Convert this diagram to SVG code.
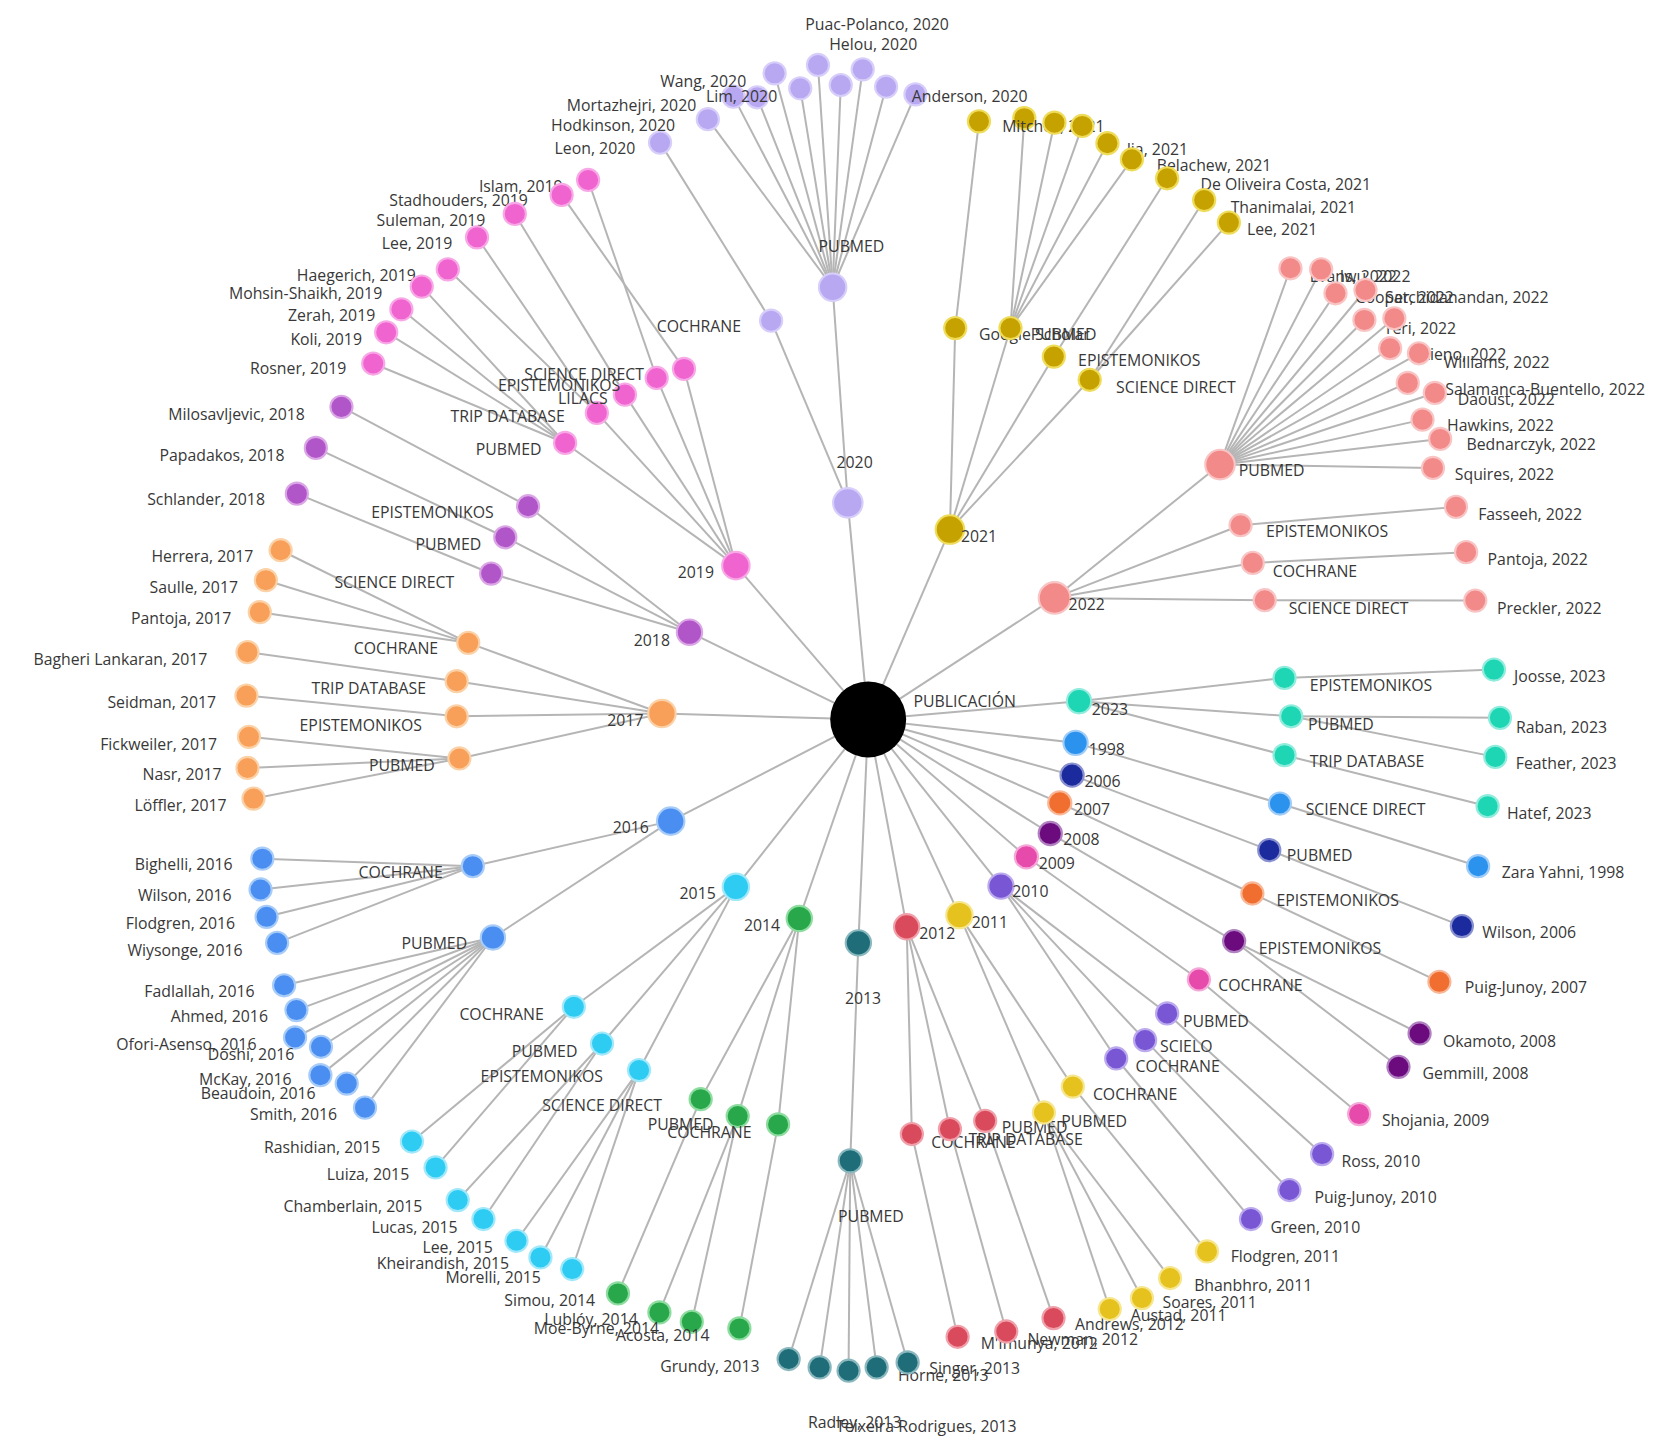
<svg xmlns="http://www.w3.org/2000/svg" width="1654" height="1455" viewBox="0 0 1654 1455">
<style>
.e line{stroke:#b5b5b5;stroke-width:1.9}
text{font-family:"Open Sans","Noto Sans","DejaVu Sans",sans-serif;font-size:15px;fill:#383838}
circle{stroke-width:2}
.k20{fill:#b8a8f2;stroke:#d8cefa}
.k21{fill:#c6a200;stroke:#eedc5a}
.k19{fill:#f064d0;stroke:#f8a8e6}
.k18{fill:#b056c8;stroke:#dba6e6}
.k17{fill:#f8a05a;stroke:#fbd2a8}
.k16{fill:#4b8ef2;stroke:#a8ccf8}
.k15{fill:#2ecbf2;stroke:#a0e8fa}
.k14{fill:#28a84a;stroke:#8edca0}
.k13{fill:#1f6d78;stroke:#8ab8be}
.k12{fill:#d94b5c;stroke:#f0a0aa}
.k11{fill:#e5c21e;stroke:#f6e690}
.k10{fill:#7856d4;stroke:#bcaaee}
.k09{fill:#e64aaa;stroke:#f5a8d8}
.k08{fill:#6b0b7e;stroke:#b080c0}
.k07{fill:#ef6e30;stroke:#f8b898}
.k06{fill:#1b2a9c;stroke:#8890d0}
.k98{fill:#2b93ee;stroke:#a0ccf8}
.k23{fill:#1ed5b4;stroke:#90ecdc}
.k22{fill:#f28a8a;stroke:#f9c4c4}
</style>
<rect width="1654" height="1455" fill="#fff"/>
<g transform="scale(1.0549)">
<g id="connectors" class="e">
<line x1="823" y1="682" x2="803.7" y2="476.7"/><line x1="823" y1="682" x2="900.5" y2="502"/><line x1="823" y1="682" x2="999.7" y2="566.8"/><line x1="823" y1="682" x2="1022.9" y2="664.7"/><line x1="823" y1="682" x2="1019.6" y2="704.2"/><line x1="823" y1="682" x2="1016.3" y2="734.8"/><line x1="823" y1="682" x2="1004.6" y2="761.1"/><line x1="823" y1="682" x2="995.6" y2="790.1"/><line x1="823" y1="682" x2="973" y2="812.2"/><line x1="823" y1="682" x2="948.9" y2="840"/><line x1="823" y1="682" x2="909.5" y2="867.5"/><line x1="823" y1="682" x2="859.5" y2="878.6"/><line x1="823" y1="682" x2="813.7" y2="893.8"/><line x1="823" y1="682" x2="757.7" y2="870.7"/><line x1="823" y1="682" x2="697.6" y2="840.7"/><line x1="823" y1="682" x2="635.8" y2="778.4"/><line x1="823" y1="682" x2="627.5" y2="676.4"/><line x1="823" y1="682" x2="653.6" y2="599.3"/><line x1="823" y1="682" x2="697.6" y2="536.2"/>
<line x1="789.3" y1="272.3" x2="803.7" y2="476.7"/><line x1="731" y1="304" x2="803.7" y2="476.7"/>
<line x1="671" y1="113" x2="789.3" y2="272.3"/><line x1="695.3" y1="91.6" x2="789.3" y2="272.3"/><line x1="717.7" y1="92.2" x2="789.3" y2="272.3"/><line x1="734.3" y1="69.5" x2="789.3" y2="272.3"/><line x1="758.6" y1="83.7" x2="789.3" y2="272.3"/><line x1="775.4" y1="61.6" x2="789.3" y2="272.3"/><line x1="797" y1="80.6" x2="789.3" y2="272.3"/><line x1="817.8" y1="65.7" x2="789.3" y2="272.3"/><line x1="840" y1="82.2" x2="789.3" y2="272.3"/><line x1="867.8" y1="89.4" x2="789.3" y2="272.3"/>
<line x1="625.7" y1="135.2" x2="731" y2="304"/>
<line x1="905.5" y1="311" x2="900.5" y2="502"/><line x1="957.9" y1="311" x2="900.5" y2="502"/><line x1="999" y1="338" x2="900.5" y2="502"/><line x1="1033" y1="360" x2="900.5" y2="502"/>
<line x1="928" y1="115" x2="905.5" y2="311"/>
<line x1="971" y1="112" x2="957.9" y2="311"/><line x1="999.6" y1="116.3" x2="957.9" y2="311"/><line x1="1026" y1="119.4" x2="957.9" y2="311"/><line x1="1049.8" y1="135.8" x2="957.9" y2="311"/><line x1="1073" y1="151" x2="957.9" y2="311"/>
<line x1="1106.4" y1="169" x2="999" y2="338"/>
<line x1="1141.5" y1="189.6" x2="1033" y2="360"/><line x1="1164.9" y1="211" x2="1033" y2="360"/>
<line x1="535.7" y1="419.9" x2="697.6" y2="536.2"/><line x1="565.8" y1="391.4" x2="697.6" y2="536.2"/><line x1="592.4" y1="374.1" x2="697.6" y2="536.2"/><line x1="622.5" y1="358.3" x2="697.6" y2="536.2"/><line x1="648.4" y1="349.7" x2="697.6" y2="536.2"/>
<line x1="557.5" y1="170.6" x2="622.5" y2="358.3"/><line x1="532.4" y1="184.8" x2="648.4" y2="349.7"/><line x1="488" y1="202.8" x2="592.4" y2="374.1"/><line x1="452.2" y1="225" x2="565.8" y2="391.4"/><line x1="424.5" y1="255.3" x2="565.8" y2="391.4"/><line x1="399.8" y1="271.7" x2="535.7" y2="419.9"/><line x1="380.5" y1="293.2" x2="535.7" y2="419.9"/><line x1="366.1" y1="315" x2="535.7" y2="419.9"/><line x1="353.8" y1="344.6" x2="535.7" y2="419.9"/>
<line x1="500.6" y1="479.9" x2="653.6" y2="599.3"/><line x1="479" y1="509.3" x2="653.6" y2="599.3"/><line x1="465.6" y1="543.7" x2="653.6" y2="599.3"/>
<line x1="323.7" y1="385.7" x2="500.6" y2="479.9"/><line x1="299.4" y1="424.6" x2="479" y2="509.3"/><line x1="281.4" y1="468" x2="465.6" y2="543.7"/>
<line x1="443.9" y1="609.4" x2="627.5" y2="676.4"/><line x1="432.9" y1="645.7" x2="627.5" y2="676.4"/><line x1="432.9" y1="679" x2="627.5" y2="676.4"/><line x1="435.5" y1="719" x2="627.5" y2="676.4"/>
<line x1="266" y1="521.6" x2="443.9" y2="609.4"/><line x1="252" y1="550" x2="443.9" y2="609.4"/><line x1="246.3" y1="580.3" x2="443.9" y2="609.4"/><line x1="234.6" y1="618.2" x2="432.9" y2="645.7"/><line x1="233.6" y1="659.4" x2="432.9" y2="679"/><line x1="236" y1="698.5" x2="435.5" y2="719"/><line x1="234.6" y1="728" x2="435.5" y2="719"/><line x1="240.3" y1="757" x2="435.5" y2="719"/>
<line x1="448.2" y1="821.1" x2="635.8" y2="778.4"/><line x1="467.3" y1="888.7" x2="635.8" y2="778.4"/>
<line x1="248.7" y1="814" x2="448.2" y2="821.1"/><line x1="247" y1="843.2" x2="448.2" y2="821.1"/><line x1="252.7" y1="869.1" x2="448.2" y2="821.1"/><line x1="262.7" y1="893.8" x2="448.2" y2="821.1"/>
<line x1="269.3" y1="934" x2="467.3" y2="888.7"/><line x1="281" y1="957.5" x2="467.3" y2="888.7"/><line x1="279.7" y1="983.5" x2="467.3" y2="888.7"/><line x1="304.3" y1="992.3" x2="467.3" y2="888.7"/><line x1="303.7" y1="1019.2" x2="467.3" y2="888.7"/><line x1="328.7" y1="1027.2" x2="467.3" y2="888.7"/><line x1="346" y1="1050" x2="467.3" y2="888.7"/>
<line x1="544" y1="954.4" x2="697.6" y2="840.7"/><line x1="570.7" y1="989.2" x2="697.6" y2="840.7"/><line x1="605.8" y1="1014.4" x2="697.6" y2="840.7"/>
<line x1="390.5" y1="1082.1" x2="544" y2="954.4"/><line x1="412.9" y1="1106.7" x2="544" y2="954.4"/><line x1="433.9" y1="1137.6" x2="570.7" y2="989.2"/><line x1="458.3" y1="1155.6" x2="570.7" y2="989.2"/><line x1="489.6" y1="1176.2" x2="605.8" y2="1014.4"/><line x1="512.3" y1="1192" x2="605.8" y2="1014.4"/><line x1="542.4" y1="1203" x2="605.8" y2="1014.4"/>
<line x1="664.2" y1="1042" x2="757.7" y2="870.7"/><line x1="699.3" y1="1058" x2="757.7" y2="870.7"/><line x1="737.6" y1="1065.9" x2="757.7" y2="870.7"/>
<line x1="585.8" y1="1226.1" x2="664.2" y2="1042"/><line x1="625.1" y1="1244.1" x2="699.3" y2="1058"/><line x1="655.8" y1="1253" x2="699.3" y2="1058"/><line x1="700.9" y1="1259.3" x2="737.6" y2="1065.9"/>
<line x1="806" y1="1100.4" x2="813.7" y2="893.8"/>
<line x1="747.6" y1="1288.3" x2="806" y2="1100.4"/><line x1="777" y1="1296.2" x2="806" y2="1100.4"/><line x1="804.4" y1="1299.4" x2="806" y2="1100.4"/><line x1="831" y1="1296.2" x2="806" y2="1100.4"/><line x1="860.4" y1="1291.5" x2="806" y2="1100.4"/>
<line x1="864.4" y1="1075" x2="859.5" y2="878.6"/><line x1="900.5" y1="1070.3" x2="859.5" y2="878.6"/><line x1="933.9" y1="1062.5" x2="859.5" y2="878.6"/>
<line x1="907.8" y1="1267.2" x2="864.4" y2="1075"/><line x1="953.9" y1="1262.2" x2="900.5" y2="1070.3"/><line x1="998.7" y1="1249.5" x2="933.9" y2="1062.5"/>
<line x1="1017" y1="1030" x2="909.5" y2="867.5"/><line x1="989.6" y1="1054.6" x2="909.5" y2="867.5"/>
<line x1="1144.2" y1="1186.3" x2="1017" y2="1030"/><line x1="1109.2" y1="1211.5" x2="989.6" y2="1054.6"/><line x1="1082.5" y1="1230.5" x2="989.6" y2="1054.6"/><line x1="1052" y1="1240.9" x2="989.6" y2="1054.6"/>
<line x1="1106.4" y1="960.7" x2="948.9" y2="840"/><line x1="1085.5" y1="986" x2="948.9" y2="840"/><line x1="1058.1" y1="1003.4" x2="948.9" y2="840"/>
<line x1="1253.3" y1="1094" x2="1106.4" y2="960.7"/><line x1="1222.3" y1="1128.1" x2="1085.5" y2="986"/><line x1="1185.9" y1="1155.6" x2="1058.1" y2="1003.4"/>
<line x1="1136.5" y1="928.5" x2="973" y2="812.2"/><line x1="1288.4" y1="1056.1" x2="1136.5" y2="928.5"/>
<line x1="1169.9" y1="892.1" x2="995.6" y2="790.1"/><line x1="1345.7" y1="979.7" x2="1169.9" y2="892.1"/><line x1="1325.7" y1="1011.3" x2="1169.9" y2="892.1"/>
<line x1="1187.2" y1="847" x2="1004.6" y2="761.1"/><line x1="1364.5" y1="930.7" x2="1187.2" y2="847"/>
<line x1="1203.2" y1="805.9" x2="1016.3" y2="734.8"/><line x1="1385.8" y1="877.9" x2="1203.2" y2="805.9"/>
<line x1="1213.3" y1="761.7" x2="1019.6" y2="704.2"/><line x1="1401.2" y1="821.1" x2="1213.3" y2="761.7"/>
<line x1="1217.7" y1="642.6" x2="1022.9" y2="664.7"/><line x1="1224" y1="679" x2="1022.9" y2="664.7"/><line x1="1217.7" y1="715.9" x2="1022.9" y2="664.7"/>
<line x1="1416.2" y1="634.7" x2="1217.7" y2="642.6"/><line x1="1421.9" y1="680.5" x2="1224" y2="679"/><line x1="1417.5" y1="717.5" x2="1224" y2="679"/><line x1="1410.2" y1="764.2" x2="1217.7" y2="715.9"/>
<line x1="1156.5" y1="440.4" x2="999.7" y2="566.8"/><line x1="1176" y1="497.9" x2="999.7" y2="566.8"/><line x1="1187.6" y1="533.6" x2="999.7" y2="566.8"/><line x1="1198.9" y1="569" x2="999.7" y2="566.8"/>
<line x1="1380.2" y1="480.5" x2="1176" y2="497.9"/><line x1="1389.8" y1="523.4" x2="1187.6" y2="533.6"/><line x1="1398.5" y1="569.3" x2="1198.9" y2="569"/>
<line x1="1223.3" y1="254.3" x2="1156.5" y2="440.4"/><line x1="1252.4" y1="255.3" x2="1156.5" y2="440.4"/><line x1="1266" y1="278" x2="1156.5" y2="440.4"/><line x1="1294.4" y1="274.9" x2="1156.5" y2="440.4"/><line x1="1293.4" y1="303.3" x2="1156.5" y2="440.4"/><line x1="1321.8" y1="301.7" x2="1156.5" y2="440.4"/><line x1="1317.8" y1="330.1" x2="1156.5" y2="440.4"/><line x1="1345.1" y1="334.9" x2="1156.5" y2="440.4"/><line x1="1334.5" y1="363" x2="1156.5" y2="440.4"/><line x1="1360.2" y1="372.5" x2="1156.5" y2="440.4"/><line x1="1348.5" y1="397.8" x2="1156.5" y2="440.4"/><line x1="1365.2" y1="416.1" x2="1156.5" y2="440.4"/><line x1="1358.4" y1="443.6" x2="1156.5" y2="440.4"/>
</g>

<g id="nodes">
<g id="publicacion"><circle cx="823" cy="682" r="36" fill="#000" stroke="none"/><text x="866" y="670">PUBLICACIÓN</text></g>

<g id="y2020"><circle class="k20" cx="803.7" cy="476.7" r="14"/><text x="793" y="444">2020</text></g>
<g id="s2020-pubmed"><circle class="k20" cx="789.3" cy="272.3" r="13"/><text x="776" y="239">PUBMED</text></g>
<g id="s2020-cochrane"><circle class="k20" cx="731" cy="304" r="10.5"/><text x="622.5" y="315">COCHRANE</text></g>
<g id="l2020-leon"><circle class="k20" cx="625.7" cy="135.2" r="10.5"/><text x="525.7" y="146">Leon, 2020</text></g>
<g id="l2020-hodkinson"><circle class="k20" cx="671" cy="113" r="10.5"/><text x="522.4" y="124">Hodkinson, 2020</text></g>
<g id="l2020-mortazhejri"><circle class="k20" cx="695.3" cy="91.6" r="10.5"/><text x="537.3" y="105.5">Mortazhejri, 2020</text></g>
<g id="l2020-lim"><circle class="k20" cx="717.7" cy="92.2" r="10.5"/><text x="669.2" y="96.6">Lim, 2020</text></g>
<g id="l2020-wang"><circle class="k20" cx="734.3" cy="69.5" r="10.5"/><text x="625.8" y="82.4">Wang, 2020</text></g>
<g id="l2020-a"><circle class="k20" cx="758.6" cy="83.7" r="10.5"/></g>
<g id="l2020-puac"><circle class="k20" cx="775.4" cy="61.6" r="10.5"/><text x="763.4" y="28.7">Puac-Polanco, 2020</text></g>
<g id="l2020-helou"><circle class="k20" cx="797" cy="80.6" r="10.5"/><text x="786" y="47">Helou, 2020</text></g>
<g id="l2020-b"><circle class="k20" cx="817.8" cy="65.7" r="10.5"/></g>
<g id="l2020-c"><circle class="k20" cx="840" cy="82.2" r="10.5"/></g>
<g id="l2020-anderson"><circle class="k20" cx="867.8" cy="89.4" r="10.5"/><text x="864.4" y="96.6">Anderson, 2020</text></g>

<g id="y2021"><circle class="k21" cx="900.5" cy="502" r="13.5"/><text x="911" y="514">2021</text></g>
<g id="s2021-scholar"><circle class="k21" cx="905.5" cy="311" r="10.5"/><text x="928" y="322.6">Google Scholar</text></g>
<g id="s2021-pubmed"><circle class="k21" cx="957.9" cy="311" r="10.5"/><text x="977" y="322.6">PUBMED</text></g>
<g id="s2021-epist"><circle class="k21" cx="999" cy="338" r="10.5"/><text x="1022" y="347">EPISTEMONIKOS</text></g>
<g id="s2021-sd"><circle class="k21" cx="1033" cy="360" r="10.5"/><text x="1058" y="372.8">SCIENCE DIRECT</text></g>
<g id="l2021-a"><circle class="k21" cx="928" cy="115" r="10.5"/></g>
<g id="l2021-mitchell"><circle class="k21" cx="971" cy="112" r="10.5"/><text x="950" y="125">Mitchell, 2021</text></g>
<g id="l2021-b"><circle class="k21" cx="999.6" cy="116.3" r="10.5"/></g>
<g id="l2021-c"><circle class="k21" cx="1026" cy="119.4" r="10.5"/></g>
<g id="l2021-jia"><circle class="k21" cx="1049.8" cy="135.8" r="10.5"/><text x="1068" y="147">Jia, 2021</text></g>
<g id="l2021-belachew"><circle class="k21" cx="1073" cy="151" r="10.5"/><text x="1096.5" y="162">Belachew, 2021</text></g>
<g id="l2021-deoliveira"><circle class="k21" cx="1106.4" cy="169" r="10.5"/><text x="1138" y="180">De Oliveira Costa, 2021</text></g>
<g id="l2021-thanimalai"><circle class="k21" cx="1141.5" cy="189.6" r="10.5"/><text x="1166.6" y="202">Thanimalai, 2021</text></g>
<g id="l2021-lee"><circle class="k21" cx="1164.9" cy="211" r="10.5"/><text x="1182" y="223">Lee, 2021</text></g>

<g id="y2019"><circle class="k19" cx="697.6" cy="536.2" r="13"/><text x="642.5" y="548">2019</text></g>
<g id="s2019-pubmed"><circle class="k19" cx="535.7" cy="419.9" r="10.5"/><text x="451" y="431">PUBMED</text></g>
<g id="s2019-trip"><circle class="k19" cx="565.8" cy="391.4" r="10.5"/><text x="427" y="400">TRIP DATABASE</text></g>
<g id="s2019-lilacs"><circle class="k19" cx="592.4" cy="374.1" r="10.5"/><text x="529" y="383">LILACS</text></g>
<g id="s2019-epist"><circle class="k19" cx="622.5" cy="358.3" r="10.5"/><text x="472" y="371">EPISTEMONIKOS</text></g>
<g id="s2019-sd"><circle class="k19" cx="648.4" cy="349.7" r="10.5"/><text x="497" y="360">SCIENCE DIRECT</text></g>
<g id="l2019-islam"><circle class="k19" cx="557.5" cy="170.6" r="10.5"/><text x="454" y="182">Islam, 2019</text></g>
<g id="l2019-stadhouders"><circle class="k19" cx="532.4" cy="184.8" r="10.5"/><text x="369" y="195.5">Stadhouders, 2019</text></g>
<g id="l2019-suleman"><circle class="k19" cx="488" cy="202.8" r="10.5"/><text x="357" y="214">Suleman, 2019</text></g>
<g id="l2019-lee"><circle class="k19" cx="452.2" cy="225" r="10.5"/><text x="362" y="236.5">Lee, 2019</text></g>
<g id="l2019-haegerich"><circle class="k19" cx="424.5" cy="255.3" r="10.5"/><text x="281.4" y="266.6">Haegerich, 2019</text></g>
<g id="l2019-mohsin"><circle class="k19" cx="399.8" cy="271.7" r="10.5"/><text x="217" y="283.6">Mohsin-Shaikh, 2019</text></g>
<g id="l2019-zerah"><circle class="k19" cx="380.5" cy="293.2" r="10.5"/><text x="273" y="304.5">Zerah, 2019</text></g>
<g id="l2019-koli"><circle class="k19" cx="366.1" cy="315" r="10.5"/><text x="275.3" y="327.2">Koli, 2019</text></g>
<g id="l2019-rosner"><circle class="k19" cx="353.8" cy="344.6" r="10.5"/><text x="237" y="354.7">Rosner, 2019</text></g>

<g id="y2018"><circle class="k18" cx="653.6" cy="599.3" r="12"/><text x="600.8" y="612">2018</text></g>
<g id="s2018-epist"><circle class="k18" cx="500.6" cy="479.9" r="10.5"/><text x="352" y="491">EPISTEMONIKOS</text></g>
<g id="s2018-pubmed"><circle class="k18" cx="479" cy="509.3" r="10.5"/><text x="393.8" y="521">PUBMED</text></g>
<g id="s2018-sd"><circle class="k18" cx="465.6" cy="543.7" r="10.5"/><text x="317" y="557">SCIENCE DIRECT</text></g>
<g id="l2018-milosavljevic"><circle class="k18" cx="323.7" cy="385.7" r="10.5"/><text x="159.5" y="398">Milosavljevic, 2018</text></g>
<g id="l2018-papadakos"><circle class="k18" cx="299.4" cy="424.6" r="10.5"/><text x="151.2" y="437">Papadakos, 2018</text></g>
<g id="l2018-schlander"><circle class="k18" cx="281.4" cy="468" r="10.5"/><text x="139.5" y="478.6">Schlander, 2018</text></g>

<g id="y2017"><circle class="k17" cx="627.5" cy="676.4" r="13"/><text x="575.7" y="688.6">2017</text></g>
<g id="s2017-cochrane"><circle class="k17" cx="443.9" cy="609.4" r="10.5"/><text x="335.4" y="620">COCHRANE</text></g>
<g id="s2017-trip"><circle class="k17" cx="432.9" cy="645.7" r="10.5"/><text x="295.4" y="658">TRIP DATABASE</text></g>
<g id="s2017-epist"><circle class="k17" cx="432.9" cy="679" r="10.5"/><text x="284" y="693">EPISTEMONIKOS</text></g>
<g id="s2017-pubmed"><circle class="k17" cx="435.5" cy="719" r="10.5"/><text x="349.8" y="731.3">PUBMED</text></g>
<g id="l2017-herrera"><circle class="k17" cx="266" cy="521.6" r="10.5"/><text x="143.5" y="533">Herrera, 2017</text></g>
<g id="l2017-saulle"><circle class="k17" cx="252" cy="550" r="10.5"/><text x="141.8" y="561.7">Saulle, 2017</text></g>
<g id="l2017-pantoja"><circle class="k17" cx="246.3" cy="580.3" r="10.5"/><text x="124.2" y="591.7">Pantoja, 2017</text></g>
<g id="l2017-bagheri"><circle class="k17" cx="234.6" cy="618.2" r="10.5"/><text x="31.7" y="630.8">Bagheri Lankaran, 2017</text></g>
<g id="l2017-seidman"><circle class="k17" cx="233.6" cy="659.4" r="10.5"/><text x="101.8" y="671.3">Seidman, 2017</text></g>
<g id="l2017-fickweiler"><circle class="k17" cx="236" cy="698.5" r="10.5"/><text x="95" y="710.8">Fickweiler, 2017</text></g>
<g id="l2017-nasr"><circle class="k17" cx="234.6" cy="728" r="10.5"/><text x="135.2" y="739.2">Nasr, 2017</text></g>
<g id="l2017-loffler"><circle class="k17" cx="240.3" cy="757" r="10.5"/><text x="127.5" y="769.2">Löffler, 2017</text></g>

<g id="y2016"><circle class="k16" cx="635.8" cy="778.4" r="13"/><text x="580.8" y="789.8">2016</text></g>
<g id="s2016-cochrane"><circle class="k16" cx="448.2" cy="821.1" r="10.5"/><text x="339.8" y="832.2">COCHRANE</text></g>
<g id="s2016-pubmed"><circle class="k16" cx="467.3" cy="888.7" r="11.5"/><text x="380.5" y="900">PUBMED</text></g>
<g id="l2016-bighelli"><circle class="k16" cx="248.7" cy="814" r="10.5"/><text x="127.8" y="825">Bighelli, 2016</text></g>
<g id="l2016-wilson"><circle class="k16" cx="247" cy="843.2" r="10.5"/><text x="130.8" y="854">Wilson, 2016</text></g>
<g id="l2016-flodgren"><circle class="k16" cx="252.7" cy="869.1" r="10.5"/><text x="119.2" y="881">Flodgren, 2016</text></g>
<g id="l2016-wiysonge"><circle class="k16" cx="262.7" cy="893.8" r="10.5"/><text x="120.8" y="906.4">Wiysonge, 2016</text></g>
<g id="l2016-fadlallah"><circle class="k16" cx="269.3" cy="934" r="10.5"/><text x="136.8" y="945">Fadlallah, 2016</text></g>
<g id="l2016-ahmed"><circle class="k16" cx="281" cy="957.5" r="10.5"/><text x="161.8" y="969">Ahmed, 2016</text></g>
<g id="l2016-ofori"><circle class="k16" cx="279.7" cy="983.5" r="10.5"/><text x="110.2" y="995.7">Ofori-Asenso, 2016</text></g>
<g id="l2016-doshi"><circle class="k16" cx="304.3" cy="992.3" r="10.5"/><text x="196.9" y="1005">Doshi, 2016</text></g>
<g id="l2016-mckay"><circle class="k16" cx="303.7" cy="1019.2" r="10.5"/><text x="188.6" y="1029">McKay, 2016</text></g>
<g id="l2016-beaudoin"><circle class="k16" cx="328.7" cy="1027.2" r="10.5"/><text x="190.3" y="1042">Beaudoin, 2016</text></g>
<g id="l2016-smith"><circle class="k16" cx="346" cy="1050" r="10.5"/><text x="237" y="1061.8">Smith, 2016</text></g>

<g id="y2015"><circle class="k15" cx="697.6" cy="840.7" r="12.5"/><text x="644.2" y="852">2015</text></g>
<g id="s2015-cochrane"><circle class="k15" cx="544" cy="954.4" r="10.5"/><text x="435.5" y="966.6">COCHRANE</text></g>
<g id="s2015-pubmed"><circle class="k15" cx="570.7" cy="989.2" r="10.5"/><text x="485" y="1002">PUBMED</text></g>
<g id="s2015-epist"><circle class="k15" cx="605.8" cy="1014.4" r="10.5"/><text x="455.6" y="1026">EPISTEMONIKOS</text></g>
<g id="l2015-rashidian"><circle class="k15" cx="390.5" cy="1082.1" r="10.5"/><text x="250.3" y="1093.3">Rashidian, 2015</text></g>
<g id="l2015-luiza"><circle class="k15" cx="412.9" cy="1106.7" r="10.5"/><text x="309.7" y="1119">Luiza, 2015</text></g>
<g id="l2015-chamberlain"><circle class="k15" cx="433.9" cy="1137.6" r="10.5"/><text x="268.7" y="1149">Chamberlain, 2015</text></g>
<g id="l2015-lucas"><circle class="k15" cx="458.3" cy="1155.6" r="10.5"/><text x="352.1" y="1168.6">Lucas, 2015</text></g>
<g id="l2015-lee"><circle class="k15" cx="489.6" cy="1176.2" r="10.5"/><text x="400.5" y="1188">Lee, 2015</text></g>
<g id="l2015-kheirandish"><circle class="k15" cx="512.3" cy="1192" r="10.5"/><text x="357.1" y="1203.3">Kheirandish, 2015</text></g>
<g id="l2015-morelli"><circle class="k15" cx="542.4" cy="1203" r="10.5"/><text x="422.2" y="1216">Morelli, 2015</text></g>

<g id="y2014"><circle class="k14" cx="757.7" cy="870.7" r="12"/><text x="705.2" y="882.7">2014</text></g>
<g id="s2014-sd"><circle class="k14" cx="664.2" cy="1042" r="10.5"/><text x="514" y="1053">SCIENCE DIRECT</text></g>
<g id="s2014-pubmed"><circle class="k14" cx="699.3" cy="1058" r="10.5"/><text x="614" y="1071">PUBMED</text></g>
<g id="s2014-cochrane"><circle class="k14" cx="737.6" cy="1065.9" r="10.5"/><text x="632.5" y="1078.6">COCHRANE</text></g>
<g id="l2014-simou"><circle class="k14" cx="585.8" cy="1226.1" r="10.5"/><text x="478" y="1238">Simou, 2014</text></g>
<g id="l2014-lubloy"><circle class="k14" cx="625.1" cy="1244.1" r="10.5"/><text x="516" y="1256.4">Lublóy, 2014</text></g>
<g id="l2014-moebyrne"><circle class="k14" cx="655.8" cy="1253" r="10.5"/><text x="506" y="1264.6">Moe-Byrne, 2014</text></g>
<g id="l2014-acosta"><circle class="k14" cx="700.9" cy="1259.3" r="10.5"/><text x="584" y="1271.2">Acosta, 2014</text></g>

<g id="y2013"><circle class="k13" cx="813.7" cy="893.8" r="12"/><text x="801" y="951.6">2013</text></g>
<g id="s2013-pubmed"><circle class="k13" cx="806" cy="1100.4" r="11"/><text x="794.5" y="1158.5">PUBMED</text></g>
<g id="l2013-grundy"><circle class="k13" cx="747.6" cy="1288.3" r="10.5"/><text x="625.8" y="1300.6">Grundy, 2013</text></g>
<g id="l2013-radley"><circle class="k13" cx="777" cy="1296.2" r="10.5"/><text x="766" y="1353.4">Radley, 2013</text></g>
<g id="l2013-teixeira"><circle class="k13" cx="804.4" cy="1299.4" r="10.5"/><text x="792.6" y="1357.4">Teixeira Rodrigues, 2013</text></g>
<g id="l2013-horne"><circle class="k13" cx="831" cy="1296.2" r="10.5"/><text x="851.2" y="1309.2">Horne, 2013</text></g>
<g id="l2013-singer"><circle class="k13" cx="860.4" cy="1291.5" r="10.5"/><text x="881" y="1302.8">Singer, 2013</text></g>

<g id="y2012"><circle class="k12" cx="859.5" cy="878.6" r="12"/><text x="871.3" y="890.5">2012</text></g>
<g id="s2012-cochrane"><circle class="k12" cx="864.4" cy="1075" r="10.5"/><text x="882.8" y="1088">COCHRANE</text></g>
<g id="s2012-trip"><circle class="k12" cx="900.5" cy="1070.3" r="10.5"/><text x="918" y="1085.8">TRIP DATABASE</text></g>
<g id="s2012-pubmed"><circle class="k12" cx="933.9" cy="1062.5" r="10.5"/><text x="949.5" y="1074">PUBMED</text></g>
<g id="l2012-mimunya"><circle class="k12" cx="907.8" cy="1267.2" r="10.5"/><text x="929.6" y="1279">M'Imunya, 2012</text></g>
<g id="l2012-newman"><circle class="k12" cx="953.9" cy="1262.2" r="10.5"/><text x="974" y="1275">Newman, 2012</text></g>
<g id="l2012-andrews"><circle class="k12" cx="998.7" cy="1249.5" r="10.5"/><text x="1019" y="1261">Andrews, 2012</text></g>

<g id="y2011"><circle class="k11" cx="909.5" cy="867.5" r="12.5"/><text x="921.2" y="879.8">2011</text></g>
<g id="s2011-cochrane"><circle class="k11" cx="1017" cy="1030" r="10.5"/><text x="1036" y="1043">COCHRANE</text></g>
<g id="s2011-pubmed"><circle class="k11" cx="989.6" cy="1054.6" r="10.5"/><text x="1006" y="1068">PUBMED</text></g>
<g id="l2011-flodgren"><circle class="k11" cx="1144.2" cy="1186.3" r="10.5"/><text x="1166.6" y="1196.3">Flodgren, 2011</text></g>
<g id="l2011-bhanbhro"><circle class="k11" cx="1109.2" cy="1211.5" r="10.5"/><text x="1132" y="1223.8">Bhanbhro, 2011</text></g>
<g id="l2011-soares"><circle class="k11" cx="1082.5" cy="1230.5" r="10.5"/><text x="1102" y="1240.2">Soares, 2011</text></g>
<g id="l2011-austad"><circle class="k11" cx="1052" cy="1240.9" r="10.5"/><text x="1072" y="1252.2">Austad, 2011</text></g>

<g id="y2010"><circle class="k10" cx="948.9" cy="840" r="12"/><text x="959.6" y="850.4">2010</text></g>
<g id="s2010-pubmed"><circle class="k10" cx="1106.4" cy="960.7" r="10.5"/><text x="1121.5" y="973.6">PUBMED</text></g>
<g id="s2010-scielo"><circle class="k10" cx="1085.5" cy="986" r="10.5"/><text x="1099.7" y="997.3">SCIELO</text></g>
<g id="s2010-cochrane"><circle class="k10" cx="1058.1" cy="1003.4" r="10.5"/><text x="1076.4" y="1016.2">COCHRANE</text></g>
<g id="l2010-ross"><circle class="k10" cx="1253.3" cy="1094" r="10.5"/><text x="1271.7" y="1106">Ross, 2010</text></g>
<g id="l2010-puigjunoy"><circle class="k10" cx="1222.3" cy="1128.1" r="10.5"/><text x="1246" y="1140">Puig-Junoy, 2010</text></g>
<g id="l2010-green"><circle class="k10" cx="1185.9" cy="1155.6" r="10.5"/><text x="1204.3" y="1168.5">Green, 2010</text></g>

<g id="y2009"><circle class="k09" cx="973" cy="812.2" r="11"/><text x="984.6" y="823.6">2009</text></g>
<g id="s2009-cochrane"><circle class="k09" cx="1136.5" cy="928.5" r="10.5"/><text x="1154.9" y="939.8">COCHRANE</text></g>
<g id="l2009-shojania"><circle class="k09" cx="1288.4" cy="1056.1" r="10.5"/><text x="1310" y="1067.4">Shojania, 2009</text></g>

<g id="y2008"><circle class="k08" cx="995.6" cy="790.1" r="11"/><text x="1008" y="801.4">2008</text></g>
<g id="s2008-epist"><circle class="k08" cx="1169.9" cy="892.1" r="10.5"/><text x="1193.3" y="904">EPISTEMONIKOS</text></g>
<g id="l2008-okamoto"><circle class="k08" cx="1345.7" cy="979.7" r="10.5"/><text x="1367.8" y="992.6">Okamoto, 2008</text></g>
<g id="l2008-gemmill"><circle class="k08" cx="1325.7" cy="1011.3" r="10.5"/><text x="1348.5" y="1022.6">Gemmill, 2008</text></g>

<g id="y2007"><circle class="k07" cx="1004.6" cy="761.1" r="11"/><text x="1018" y="773">2007</text></g>
<g id="s2007-epist"><circle class="k07" cx="1187.2" cy="847" r="10.5"/><text x="1210" y="859">EPISTEMONIKOS</text></g>
<g id="l2007-puigjunoy"><circle class="k07" cx="1364.5" cy="930.7" r="10.5"/><text x="1388.5" y="941">Puig-Junoy, 2007</text></g>

<g id="y2006"><circle class="k06" cx="1016.3" cy="734.8" r="11"/><text x="1028" y="746">2006</text></g>
<g id="s2006-pubmed"><circle class="k06" cx="1203.2" cy="805.9" r="10.5"/><text x="1219.9" y="816.3">PUBMED</text></g>
<g id="l2006-wilson"><circle class="k06" cx="1385.8" cy="877.9" r="10.5"/><text x="1405.2" y="889.3">Wilson, 2006</text></g>

<g id="y1998"><circle class="k98" cx="1019.6" cy="704.2" r="11.5"/><text x="1032" y="716">1998</text></g>
<g id="s1998-sd"><circle class="k98" cx="1213.3" cy="761.7" r="10.5"/><text x="1237.7" y="773">SCIENCE DIRECT</text></g>
<g id="l1998-zarayahni"><circle class="k98" cx="1401.2" cy="821.1" r="10.5"/><text x="1423.6" y="832.2">Zara Yahni, 1998</text></g>

<g id="y2023"><circle class="k23" cx="1022.9" cy="664.7" r="11.5"/><text x="1035" y="678">2023</text></g>
<g id="s2023-epist"><circle class="k23" cx="1217.7" cy="642.6" r="10.5"/><text x="1241.7" y="655">EPISTEMONIKOS</text></g>
<g id="s2023-pubmed"><circle class="k23" cx="1224" cy="679" r="10.5"/><text x="1240" y="692">PUBMED</text></g>
<g id="s2023-trip"><circle class="k23" cx="1217.7" cy="715.9" r="10.5"/><text x="1241.7" y="727.2">TRIP DATABASE</text></g>
<g id="l2023-joosse"><circle class="k23" cx="1416.2" cy="634.7" r="10.5"/><text x="1435.2" y="646.6">Joosse, 2023</text></g>
<g id="l2023-raban"><circle class="k23" cx="1421.9" cy="680.5" r="10.5"/><text x="1437" y="695">Raban, 2023</text></g>
<g id="l2023-feather"><circle class="k23" cx="1417.5" cy="717.5" r="10.5"/><text x="1436.9" y="728.8">Feather, 2023</text></g>
<g id="l2023-hatef"><circle class="k23" cx="1410.2" cy="764.2" r="10.5"/><text x="1428.5" y="776.2">Hatef, 2023</text></g>

<g id="y2022"><circle class="k22" cx="999.7" cy="566.8" r="15"/><text x="1013" y="578">2022</text></g>
<g id="s2022-pubmed"><circle class="k22" cx="1156.5" cy="440.4" r="14"/><text x="1174.3" y="451.7">PUBMED</text></g>
<g id="s2022-epist"><circle class="k22" cx="1176" cy="497.9" r="10.5"/><text x="1200" y="509.2">EPISTEMONIKOS</text></g>
<g id="s2022-cochrane"><circle class="k22" cx="1187.6" cy="533.6" r="10.5"/><text x="1206.6" y="546.5">COCHRANE</text></g>
<g id="s2022-sd"><circle class="k22" cx="1198.9" cy="569" r="10.5"/><text x="1221.6" y="582.2">SCIENCE DIRECT</text></g>
<g id="l2022-fasseeh"><circle class="k22" cx="1380.2" cy="480.5" r="10.5"/><text x="1401.2" y="492.8">Fasseeh, 2022</text></g>
<g id="l2022-pantoja"><circle class="k22" cx="1389.8" cy="523.4" r="10.5"/><text x="1410.2" y="535.4">Pantoja, 2022</text></g>
<g id="l2022-preckler"><circle class="k22" cx="1398.5" cy="569.3" r="10.5"/><text x="1419.2" y="582.2">Preckler, 2022</text></g>
<g id="l2022-evans"><circle class="k22" cx="1223.3" cy="254.3" r="10.5"/><text x="1241.6" y="267.2">Evans, 2022</text></g>
<g id="l2022-iwu"><circle class="k22" cx="1252.4" cy="255.3" r="10.5"/><text x="1270" y="267.2">Iwu, 2022</text></g>
<g id="l2022-cooper"><circle class="k22" cx="1266" cy="278" r="10.5"/><text x="1285" y="287.7">Cooper, 2022</text></g>
<g id="l2022-satchidanandan"><circle class="k22" cx="1294.4" cy="274.9" r="10.5"/><text x="1313" y="287.7">Satchidanandan, 2022</text></g>
<g id="l2022-teri"><circle class="k22" cx="1293.4" cy="303.3" r="10.5"/><text x="1311.7" y="316.3">Teri, 2022</text></g>
<g id="l2022-a"><circle class="k22" cx="1321.8" cy="301.7" r="10.5"/></g>
<g id="l2022-otieno"><circle class="k22" cx="1317.8" cy="330.1" r="10.5"/><text x="1338.5" y="341.5">Otieno, 2022</text></g>
<g id="l2022-williams"><circle class="k22" cx="1345.1" cy="334.9" r="10.5"/><text x="1368.5" y="349">Williams, 2022</text></g>
<g id="l2022-salamanca"><circle class="k22" cx="1334.5" cy="363" r="10.5"/><text x="1370.1" y="374.3">Salamanca-Buentello, 2022</text></g>
<g id="l2022-daoust"><circle class="k22" cx="1360.2" cy="372.5" r="10.5"/><text x="1381.9" y="383.8">Daoust, 2022</text></g>
<g id="l2022-hawkins"><circle class="k22" cx="1348.5" cy="397.8" r="10.5"/><text x="1371.8" y="408.4">Hawkins, 2022</text></g>
<g id="l2022-bednarczyk"><circle class="k22" cx="1365.2" cy="416.1" r="10.5"/><text x="1390.2" y="426.5">Bednarczyk, 2022</text></g>
<g id="l2022-squires"><circle class="k22" cx="1358.4" cy="443.6" r="10.5"/><text x="1379.1" y="454.9">Squires, 2022</text></g>
</g>
</g>
</svg>
